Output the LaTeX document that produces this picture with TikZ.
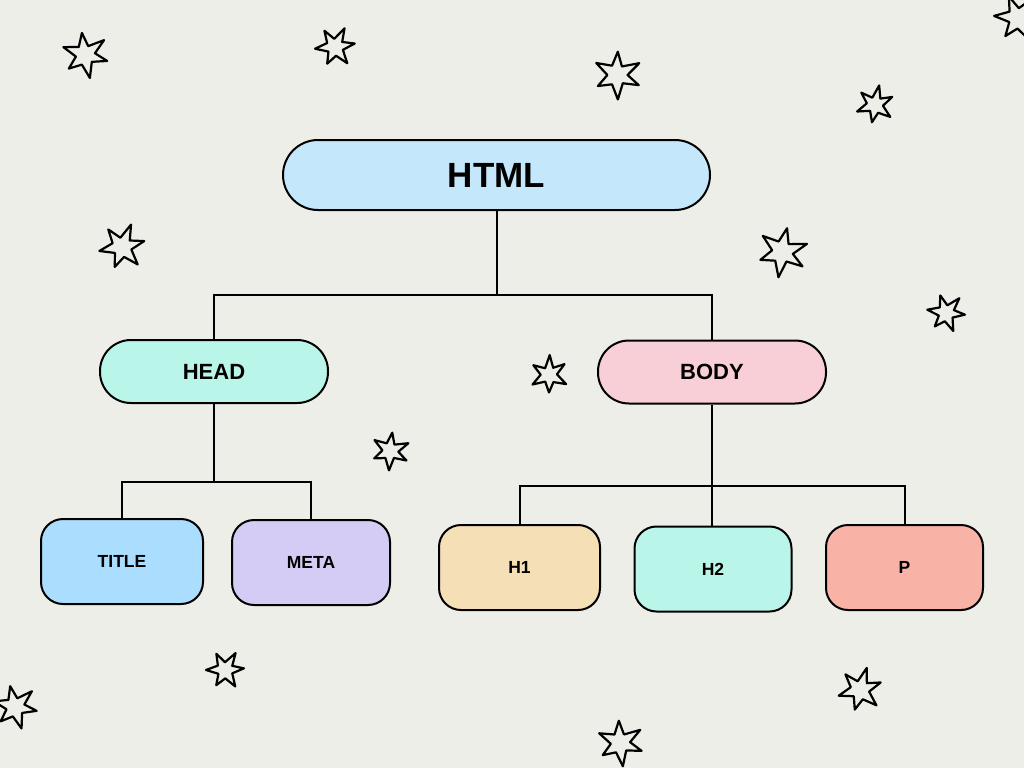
\documentclass[tikz,border=0pt]{standalone}
\usepackage{fontspec}
\setmainfont{Liberation Sans}
\definecolor{paper}{HTML}{EEEEE9}
\definecolor{rootblue}{HTML}{C4E7FC}
\definecolor{mint}{HTML}{B9F5E8}
\definecolor{blush}{HTML}{F8CFD6}
\definecolor{sky}{HTML}{ABDEFE}
\definecolor{lavender}{HTML}{D5CCF5}
\definecolor{sand}{HTML}{F4DFB7}
\definecolor{salmon}{HTML}{F8B3A6}
\tikzset{wire/.style={black,line width=2pt},
  box/.style={draw=black, line width=2pt, inner sep=0pt},
  root/.style={box, minimum width=427pt, minimum height=70pt, rounded corners=35pt, font=\bfseries\fontsize{35}{40}\selectfont},
  branch/.style={box, minimum width=228pt, minimum height=63pt, rounded corners=31pt, font=\bfseries\fontsize{22}{26}\selectfont},
  leaf/.style={box, minimum width=160pt, minimum height=85pt, rounded corners=22pt, font=\bfseries\fontsize{17.5}{20}\selectfont},
  sparkle/.pic={\draw[black,line width=2.2pt,line join=round] (15:1) -- (45:0.42) -- (78:1.02) -- (108:0.44) -- (140:0.92) -- (170:0.4) -- (200:1) -- (232:0.44) -- (262:0.97) -- (290:0.41) -- (322:1.05) -- (350:0.44) -- cycle;}}

\begin{document}
\begin{tikzpicture}[x=1pt,y=-1pt]
  \useasboundingbox (0,0) rectangle (1024,768);
  \clip (0,0) rectangle (1024,768);
  \fill[paper] (0,0) rectangle (1024,768);
  % stars
  \pic[scale=23,rotate=0]   at (85,55)   {sparkle};
  \pic[scale=20,rotate=25]  at (335,47)  {sparkle};
  \pic[scale=24,rotate=-10] at (617,75)  {sparkle};
  \pic[scale=19,rotate=40]  at (875,105) {sparkle};
  \pic[scale=24,rotate=15]  at (1018,18) {sparkle};
  \pic[scale=23,rotate=30]  at (122,247) {sparkle};
  \pic[scale=25,rotate=-20] at (782,252) {sparkle};
  \pic[scale=19,rotate=10]  at (946,313) {sparkle};
  \pic[scale=19,rotate=50]  at (549,375) {sparkle};
  \pic[scale=19,rotate=-15] at (390,451) {sparkle};
  \pic[scale=19,rotate=20]  at (225,670) {sparkle};
  \pic[scale=22,rotate=5]   at (15,707)  {sparkle};
  \pic[scale=22,rotate=35]  at (860,690) {sparkle};
  \pic[scale=23,rotate=-5]  at (620,743) {sparkle};
  % tree
  \node[root, fill=rootblue] (html) at (496.5,175) {HTML};
  \node[branch, fill=mint] (head) at (214,371.5) {HEAD};
  \node[branch, fill=blush] (body) at (712,372) {BODY};
  \node[leaf, fill=sky, minimum width=162pt] (title) at (122,561.5) {TITLE};
  \node[leaf, fill=lavender, minimum width=158pt] (meta) at (311,562.5) {META};
  \node[leaf, fill=sand, minimum width=161pt] (h1) at (519.5,567.5) {H1};
  \node[leaf, fill=mint, minimum width=157pt] (h2) at (713,569) {H2};
  \node[leaf, fill=salmon, minimum width=157pt] (p) at (904.5,567.5) {P};
  % connectors
  \path (html.south) ++(0,84) coordinate (topbus);
  \path (head.south) ++(0,78) coordinate (headbus);
  \path (body.south) ++(0,81) coordinate (bodybus);
  \draw[wire] (html.south) -- (topbus);
  \draw[wire] (head.north) |- (topbus) -| (body.north);
  \draw[wire] (head.south) -- (headbus);
  \draw[wire] (title.north) |- (headbus) -| (meta.north);
  \draw[wire] (body.south) -- (body.south |- h2.north);
  \draw[wire] (h1.north) |- (bodybus) -| (p.north);
\end{tikzpicture}
\end{document}
